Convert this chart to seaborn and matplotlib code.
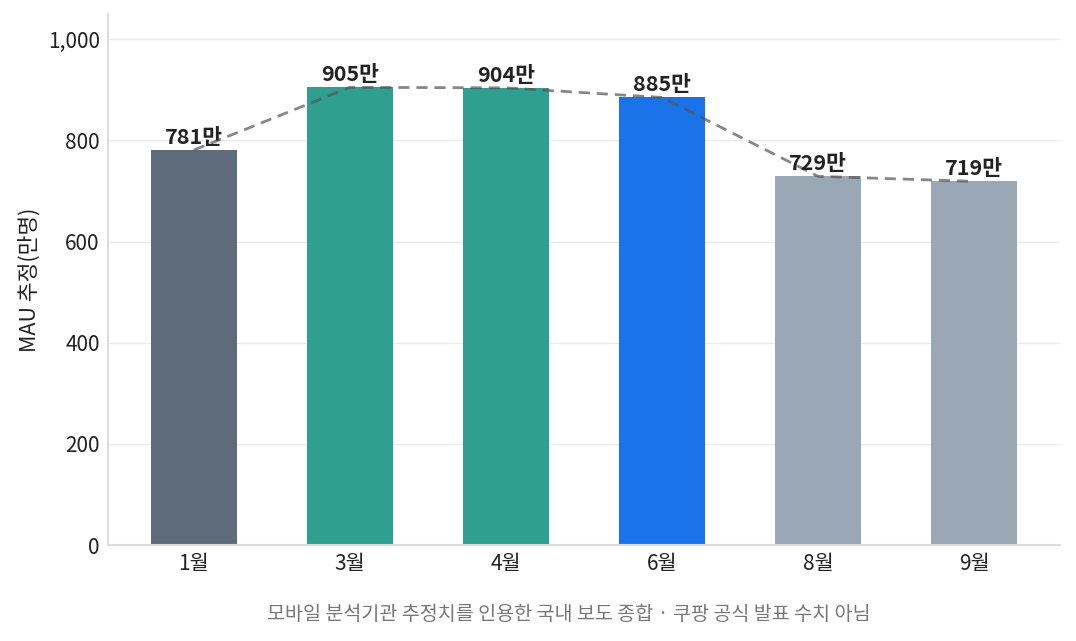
import matplotlib
matplotlib.use("Agg")
import matplotlib.pyplot as plt
import seaborn as sns
import pandas as pd

months = ["1월", "3월", "4월", "6월", "8월", "9월"]
mau = [781, 905, 904, 885, 729, 719]
bar_colors = ["#5e6b7b", "#2f9f8f", "#2f9f8f", "#1a73e8", "#9aa7b4", "#9aa7b4"]
value_labels = [f"{v}만" for v in mau]
y_ticks = [0, 200, 400, 600, 800, 1000]
y_tick_labels = ["0", "200", "400", "600", "800", "1,000"]

sns.set_theme(style="white")
plt.rcParams['font.family'] = ['Noto Sans CJK KR', 'DejaVu Sans']

df = pd.DataFrame({"month": months, "mau": mau})

fig = plt.figure(figsize=(10.76, 6.41), dpi=100)
ax = fig.add_axes([108/1076, 1 - 545/641, (1060-108)/1076, (545-14)/641])

sns.barplot(data=df, x="month", y="mau", hue="month", palette=bar_colors,
            legend=False, width=0.55, ax=ax, saturation=1, linewidth=0)

xs = list(range(len(months)))
ax.plot(xs, mau, linestyle=(0, (4, 2.5)), color="#555555", alpha=0.7, lw=2, zorder=5)

for x, v, lab in zip(xs, mau, value_labels):
    ax.text(x, v + 4, lab, ha="center", va="bottom", fontsize=15.5,
            fontweight="bold", color="#222222", zorder=6)

ax.set_ylim(0, 1050)
ax.set_xlim(-0.55, 5.55)
ax.set_yticks(y_ticks)
ax.set_yticklabels(y_tick_labels)
ax.yaxis.grid(True, color="#ebebeb", lw=1)
ax.set_axisbelow(True)
ax.tick_params(axis="both", labelsize=15, colors="#222222", length=0, pad=6)
ax.set_xlabel("")
ax.set_ylabel("MAU 추정(만명)", fontsize=15.5, color="#222222", labelpad=5)
for s in ["top", "right"]:
    ax.spines[s].set_visible(False)
for s in ["left", "bottom"]:
    ax.spines[s].set_color("#dddddd")
    ax.spines[s].set_linewidth(1.5)

fig.text(569/1076, 1 - 614/641, "모바일 분석기관 추정치를 인용한 국내 보도 종합 · 쿠팡 공식 발표 수치 아님",
         ha="center", va="center", fontsize=14.1, color="#777777")

fig.savefig("out.png", dpi=100)
